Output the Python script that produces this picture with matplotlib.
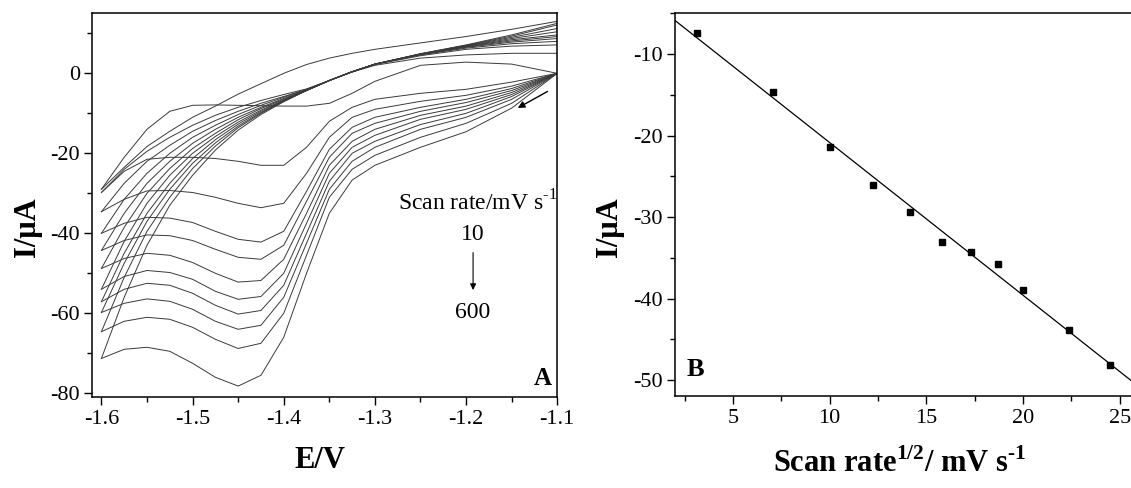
import matplotlib
matplotlib.use("Agg")
import matplotlib.pyplot as plt
import numpy as np
from matplotlib.ticker import MultipleLocator

plt.rcParams["font.family"] = ["Liberation Serif", "DejaVu Serif"]
plt.rcParams["mathtext.fontset"] = "custom"
plt.rcParams["mathtext.rm"] = "Liberation Serif"
plt.rcParams["mathtext.bf"] = "Liberation Serif:bold"
plt.rcParams["axes.unicode_minus"] = False

# Panel A: cyclic voltammograms, one row per scan rate (10 ... 600 mV/s)
scan_rates = [10, 50, 100, 150, 200, 250, 300, 350, 400, 500, 600]

e_cathodic = [-1.10, -1.15, -1.20, -1.25, -1.30, -1.325, -1.35, -1.375, -1.40,
              -1.425, -1.45, -1.475, -1.50, -1.525, -1.55, -1.575, -1.60]
i_cathodic = [
    [0, 2.3, 2.8, 2.0, -2.0, -5.0, -7.5, -8.2, -8.2, -8.1, -8.0, -7.9, -8.0, -9.5, -14, -21, -29],
    [0, -2.2, -4.0, -5.0, -6.5, -8.5, -12, -18.5, -23, -23, -22, -21.3, -21, -21, -21.5, -24.5, -29.8],
    [0, -3.2, -5.5, -7.0, -9.0, -11, -16, -25, -32.5, -33.6, -32.5, -31, -29.8, -29.3, -29.4, -31.5, -34.6],
    [0, -3.8, -6.5, -8.5, -11, -13.5, -19, -29.5, -39.5, -42.2, -41.5, -39.5, -37.3, -36.2, -36, -37.5, -40],
    [0, -4.3, -7.3, -9.5, -12.5, -15, -21, -32, -43, -46.5, -46, -44, -41.8, -40.6, -40.4, -41.8, -44.3],
    [0, -4.8, -8.2, -10.5, -14, -17, -23, -35, -46.5, -51.8, -52.2, -50, -47.3, -45.5, -45, -46.3, -48.8],
    [0, -5.3, -9.0, -11.5, -15.5, -18.5, -25, -37.5, -50, -55.8, -56.5, -54.5, -51.5, -49.8, -49.3, -50.8, -54],
    [0, -5.8, -10, -12.8, -17, -20, -27, -40, -53, -59.3, -60.2, -58, -55, -53, -52.5, -54, -57.1],
    [0, -6.5, -11, -14, -18.5, -22, -29, -42.5, -56, -63, -64, -62, -59, -57, -56.4, -57.5, -59.8],
    [0, -7.5, -12.5, -16, -20.5, -24, -31, -45.5, -60, -67.5, -68.8, -66.5, -63.5, -61.5, -61, -62, -64.6],
    [0, -8.7, -14.6, -18.5, -23, -26.7, -35, -50, -66, -75.5, -78.2, -76, -72.5, -69.5, -68.5, -69, -71.3],
]

e_anodic = [-1.60, -1.575, -1.55, -1.525, -1.50, -1.475, -1.45, -1.425, -1.40,
            -1.375, -1.35, -1.325, -1.30, -1.25, -1.20, -1.15, -1.10]
i_anodic = [
    [-29.0, -23.5, -18.3, -14.5, -11, -8.2, -5.2, -2.6, 0, 2.2, 3.8, 5, 6, 7.6, 9.2, 11, 13],
    [-29.8, -24, -19.5, -16, -13, -10.5, -8.5, -6.8, -5.3, -3.9, -1.8, 0.3, 2.0, 3.8, 4.6, 5.0, 5.0],
    [-34.6, -27.5, -22, -18, -14.5, -11.8, -9.5, -7.5, -5.8, -4.0, -1.8, 0.4, 2.2, 4.4, 6.0, 6.8, 7.1],
    [-40, -31.5, -25, -20, -16, -13, -10.3, -8, -6, -4.1, -1.8, 0.4, 2.3, 4.6, 6.3, 7.4, 8.0],
    [-44.3, -35, -27.5, -22, -17.5, -14, -11, -8.5, -6.3, -4.2, -1.8, 0.4, 2.3, 4.7, 6.5, 7.8, 8.7],
    [-48.8, -38.5, -30, -23.8, -18.8, -15, -11.6, -8.8, -6.5, -4.2, -1.8, 0.4, 2.3, 4.7, 6.6, 8.1, 9.2],
    [-54, -42, -32.5, -25.5, -20, -15.8, -12.2, -9.2, -6.7, -4.3, -1.8, 0.4, 2.3, 4.8, 6.7, 8.4, 9.6],
    [-57.1, -45, -35, -27.5, -21.3, -16.6, -12.7, -9.5, -6.8, -4.3, -1.8, 0.4, 2.3, 4.8, 6.8, 8.7, 10.4],
    [-59.8, -47.5, -37, -29, -22.5, -17.4, -13.2, -9.8, -6.9, -4.3, -1.8, 0.4, 2.3, 4.8, 6.9, 9.0, 11.2],
    [-64.6, -51, -39.5, -31, -23.8, -18.2, -13.6, -10, -7, -4.3, -1.8, 0.4, 2.3, 4.9, 7.0, 9.3, 12.1],
    [-71.3, -56, -43, -33, -25.5, -19.2, -14.2, -10.3, -7.1, -4.3, -1.8, 0.4, 2.3, 4.9, 7.1, 9.6, 12.5],
]

# Panel B: peak current vs square root of scan rate
peak_current = [-7.4, -14.6, -21.4, -26.1, -29.4, -33.1, -34.3, -35.8, -39.0, -43.9, -48.1]

HYPHEN = "\u2010"


def style_axes(ax):
    ax.tick_params(which="both", direction="out", labelsize=16, width=1.0, pad=3)
    ax.tick_params(which="major", length=6)
    ax.tick_params(which="minor", length=3.5)
    for spine in ax.spines.values():
        spine.set_linewidth(1.1)


fig = plt.figure(figsize=(11.31, 4.88), dpi=100)

ax_a = fig.add_axes([0.0816, 0.1859, 0.4111, 0.7868])
for row_c, row_a in zip(i_cathodic, i_anodic):
    ax_a.plot(e_cathodic, row_c, color="#3a3a3a", linewidth=0.7)
    ax_a.plot(e_anodic, row_a, color="#3a3a3a", linewidth=0.7)
ax_a.set_xlim(-1.61, -1.1)
ax_a.set_ylim(-81, 15)
ax_a.xaxis.set_major_locator(MultipleLocator(0.1))
ax_a.xaxis.set_minor_locator(MultipleLocator(0.05))
ax_a.yaxis.set_major_locator(MultipleLocator(20))
ax_a.yaxis.set_minor_locator(MultipleLocator(10))
ax_a.xaxis.set_major_formatter(plt.FuncFormatter(lambda v, p: f"{v:.1f}"))
style_axes(ax_a)

ax_a.text(0.829, 0.506, "Scan rate/mV s$^{\\mathrm{" + HYPHEN + "1}}$", transform=ax_a.transAxes,
          ha="center", va="center", fontsize=17)
ax_a.text(0.819, 0.423, "10", transform=ax_a.transAxes, ha="center", va="center", fontsize=17)
ax_a.text(0.819, 0.22, "600", transform=ax_a.transAxes, ha="center", va="center", fontsize=17)
ax_a.annotate("", xy=(0.819, 0.272), xytext=(0.819, 0.384), xycoords="axes fraction",
              arrowprops=dict(arrowstyle="-|>", color="black", lw=0.8, mutation_scale=9))
ax_a.annotate("", xy=(-1.146, -9.0), xytext=(-1.108, -4.2), xycoords="data",
              arrowprops=dict(arrowstyle="-|>", color="black", lw=1.0, mutation_scale=10))
ax_a.text(0.969, 0.05, "A", transform=ax_a.transAxes, ha="center", va="center",
          fontsize=18, fontweight="bold")

ax_b = fig.add_axes([0.5968, 0.1879, 0.4103, 0.7848])
root_rate = np.sqrt(scan_rates)
slope, intercept = np.polyfit(root_rate, peak_current, 1)
fit_x = np.array([2.0, 26.0])
ax_b.plot(fit_x, slope * fit_x + intercept, color="black", linewidth=0.9)
ax_b.plot(root_rate, peak_current, "s", color="black", markersize=4.2)
ax_b.set_xlim(2, 26)
ax_b.set_ylim(-52, -5)
ax_b.xaxis.set_major_locator(MultipleLocator(5))
ax_b.xaxis.set_minor_locator(MultipleLocator(2.5))
ax_b.yaxis.set_major_locator(MultipleLocator(10))
ax_b.yaxis.set_minor_locator(MultipleLocator(5))
style_axes(ax_b)
ax_b.text(0.045, 0.069, "B", transform=ax_b.transAxes, ha="center", va="center",
          fontsize=19, fontweight="bold")

fig.text(0.2829, 0.056, "E/V", ha="center", va="center", fontsize=22, fontweight="bold")
fig.text(0.024, 0.535, "I/μA", ha="center", va="center", fontsize=22,
         fontweight="bold", rotation=90)
fig.text(0.5385, 0.535, "I/μA", ha="center", va="center", fontsize=22,
         fontweight="bold", rotation=90)
fig.text(0.7958, 0.05, "Scan rate$^{\\mathbf{1/2}}$/ mV s$^{\\mathbf{" + HYPHEN + "1}}$",
         ha="center", va="center", fontsize=22, fontweight="bold")

fig.savefig("out.png", dpi=100)
